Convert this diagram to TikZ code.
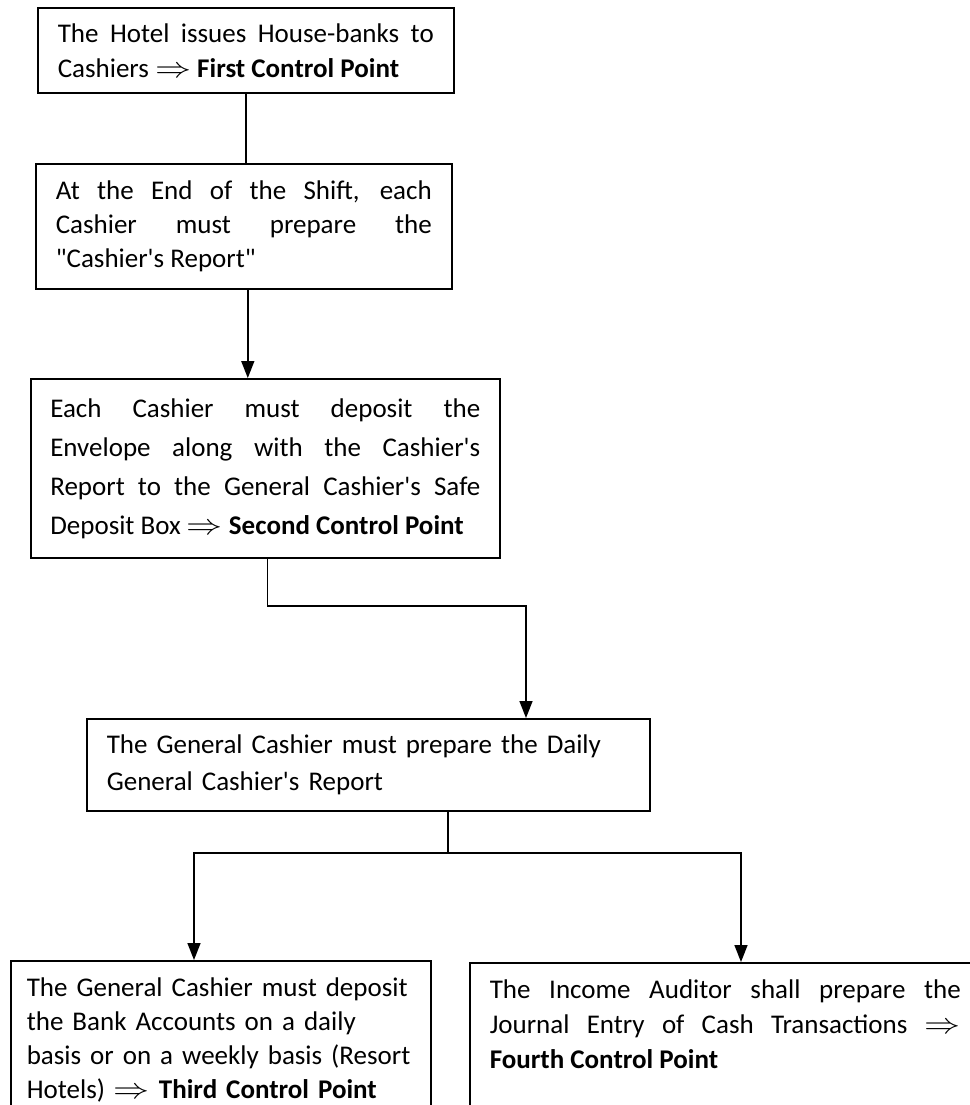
\documentclass[tikz,border=0pt]{standalone}
\usepackage{fontspec}
\usepackage{graphicx}
\newfontfamily\carlito{Carlito}
\usetikzlibrary{arrows.meta}
\tolerance=10000
\hyphenpenalty=10000
\newcommand{\imp}{\scalebox{1.25}[1]{$\Rightarrow$}}

\begin{document}
\begin{tikzpicture}[x=0.5pt, y=-0.5pt, line width=0.8pt, >={Stealth[length=8.5pt,width=6.5pt,inset=0pt]},
    box/.style={rectangle, draw, anchor=north west, inner xsep=10pt, inner ysep=0pt, align=justify,
        font=\carlito\fontsize{13.5}{17.5}\selectfont}]

    \useasboundingbox (0,0) rectangle (970,1105);
    \clip (0,0) rectangle (970,1105);

    \node[box, text width=188pt, minimum height=42.5pt] (1) at (37,7)
        {The Hotel issues House-banks to\linebreak Cashiers \imp{} \textbf{First Control Point}};
    \node[box, text width=188pt, minimum height=62.5pt, font=\carlito\fontsize{13.5}{17}\selectfont] (2) at (35,163)
        {At the End of the Shift, each\linebreak Cashier must prepare the\linebreak "Cashier's Report"};
    \node[box, text width=215pt, minimum height=89.5pt, inner xsep=9.75pt, font=\carlito\fontsize{13.5}{19.5}\selectfont] (3) at (30,378)
        {Each Cashier must deposit the\linebreak Envelope along with the Cashier's\linebreak Report to the General Cashier's Safe\linebreak Deposit Box \imp{} \textbf{Second Control Point}};
    \node[box, text width=261.5pt, minimum height=46pt, align=left, font=\carlito\fontsize{13.5}{18.5}\selectfont] (4) at (86,718)
        {The General Cashier must prepare the Daily\\ General Cashier's Report};

    % the two lower boxes run past the bottom edge
    \node[box, text width=194pt, inner xsep=8pt, inner ysep=8.5pt, align=left, font=\carlito\fontsize{13.5}{17}\selectfont] (5) at (10,960)
        {The General Cashier must deposit\\ the Bank Accounts on a daily\\ basis or on a weekly basis (Resort\\ Hotels) \imp{} \textbf{Third Control Point}\\[40pt]\mbox{}};
    \node[box, text width=235.5pt, inner ysep=8.5pt] (6) at (469,962)
        {The Income Auditor shall prepare the\linebreak Journal Entry of Cash Transactions \imp\linebreak \textbf{Fourth Control Point}\\[60pt]\mbox{}};

    % joints of the elbow lines
    \coordinate (j1) at (526,606);
    \coordinate (j2) at (448,853);
    \coordinate (a5) at (194,853);
    \coordinate (a6) at (741,853);

    \draw (1.south) -- (1.south |- 2.north);
    \draw[->] ([xshift=2pt]2.south) -- ([xshift=2pt]2.south |- 3.north);
    \draw[->] ([xshift=1pt]3.south) |- (j1) -- (j1 |- 4.north);
    \draw (4.south -| j2) -- (j2);
    \draw[->] (j2) -- (a5) -- (a5 |- 5.north);
    \draw[->] (j2) -- (a6) -- (a6 |- 6.north);
\end{tikzpicture}
\end{document}
